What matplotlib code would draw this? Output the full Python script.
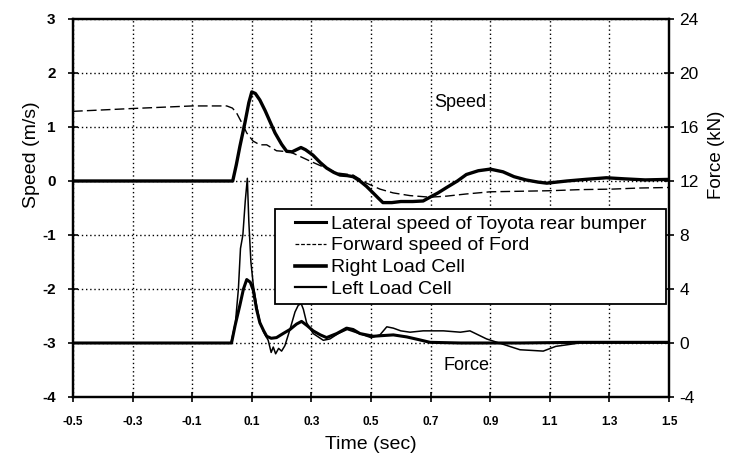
import matplotlib
matplotlib.use("Agg")
import matplotlib.pyplot as plt
from matplotlib.lines import Line2D
from matplotlib.legend_handler import HandlerLine2D

plt.rcParams['font.family'] = ['Liberation Sans', 'DejaVu Sans']

# ---- data ----
lat_t = [-0.5, 0.036, 0.048, 0.06, 0.077, 0.09, 0.10, 0.112, 0.127, 0.145, 0.161, 0.178, 0.2,
         0.217, 0.235, 0.25, 0.265, 0.28, 0.305, 0.33, 0.351, 0.375, 0.396, 0.42, 0.44, 0.463,
         0.485, 0.507, 0.525, 0.54, 0.57, 0.6, 0.64, 0.675, 0.698, 0.725, 0.754, 0.79, 0.82,
         0.86, 0.9, 0.943, 0.98, 1.02, 1.06, 1.09, 1.157, 1.22, 1.29, 1.35, 1.42, 1.5]
lat_v = [0, 0, 0.3, 0.64, 1.08, 1.45, 1.65, 1.62, 1.5, 1.3, 1.1, 0.89, 0.68,
         0.55, 0.54, 0.58, 0.62, 0.58, 0.48, 0.34, 0.24, 0.16, 0.11, 0.1, 0.08, 0.0,
         -0.1, -0.22, -0.32, -0.4, -0.4, -0.38, -0.38, -0.37, -0.3, -0.22, -0.12, 0.0, 0.12,
         0.19, 0.22, 0.17, 0.08, 0.02, -0.02, -0.04, 0.0, 0.03, 0.06, 0.04, 0.02, 0.03]

fwd_t = [-0.5, -0.31, -0.1, 0.016, 0.035, 0.049, 0.07, 0.083, 0.104, 0.127, 0.15, 0.183, 0.228,
         0.26, 0.295, 0.34, 0.385, 0.44, 0.485, 0.53, 0.574, 0.63, 0.698, 0.754, 0.82, 0.9,
         1.0, 1.1, 1.2, 1.31, 1.4, 1.5]
fwd_v = [1.29, 1.34, 1.39, 1.39, 1.35, 1.26, 1.04, 0.89, 0.74, 0.67, 0.67, 0.56, 0.54,
         0.46, 0.37, 0.26, 0.15, 0.11, -0.04, -0.15, -0.22, -0.27, -0.3, -0.28, -0.24, -0.2,
         -0.19, -0.18, -0.16, -0.15, -0.13, -0.12]

right_t = [-0.5, 0.032, 0.044, 0.06, 0.072, 0.083, 0.095, 0.105, 0.116, 0.127, 0.14, 0.15, 0.165,
           0.183, 0.205, 0.228, 0.25, 0.267, 0.285, 0.306, 0.33, 0.351, 0.385, 0.418, 0.44,
           0.463, 0.508, 0.54, 0.575, 0.62, 0.66, 0.698, 0.8, 1.0, 1.2, 1.5]
right_f = [0, 0, 1.3, 2.8, 4.0, 4.7, 4.5, 3.9, 2.5, 1.5, 0.9, 0.5, 0.35,
           0.4, 0.7, 1.0, 1.4, 1.6, 1.3, 0.9, 0.6, 0.4, 0.7, 1.1, 1.0,
           0.7, 0.5, 0.55, 0.6, 0.45, 0.25, 0.05, 0.0, 0.0, 0.05, 0.05]

left_t = [-0.5, 0.03, 0.045, 0.055, 0.062, 0.07, 0.078, 0.085, 0.09, 0.097, 0.105, 0.116, 0.127,
          0.14, 0.155, 0.165, 0.172, 0.18, 0.19, 0.2, 0.211, 0.228, 0.245, 0.256, 0.266, 0.273,
          0.284, 0.306, 0.34, 0.362, 0.39, 0.42, 0.46, 0.5, 0.53, 0.553, 0.575, 0.6, 0.631,
          0.675, 0.743, 0.8, 0.832, 0.888, 0.93, 1.0, 1.04, 1.078, 1.12, 1.2, 1.5]
left_f = [0, 0, 1.5, 4.0, 7.0, 8.0, 10.5, 12.2, 9.0, 6.0, 4.3, 2.8, 1.6,
          0.8, 0.2, -0.7, -0.3, -0.8, -0.4, -0.6, -0.2, 1.0, 2.3, 2.8, 2.9, 2.5,
          1.5, 0.7, 0.2, 0.3, 0.7, 1.0, 0.7, 0.4, 0.6, 1.2, 1.1, 0.9, 0.8,
          0.9, 0.9, 0.8, 0.9, 0.3, 0.0, -0.5, -0.55, -0.6, -0.25, 0.0, 0.0]

x_ticks = [-0.5, -0.3, -0.1, 0.1, 0.3, 0.5, 0.7, 0.9, 1.1, 1.3, 1.5]
speed_ticks = [-4, -3, -2, -1, 0, 1, 2, 3]
force_ticks = [-4, 0, 4, 8, 12, 16, 20, 24]

labels = ["Lateral speed of Toyota rear bumper", "Forward speed of Ford",
          "Right Load Cell", "Left Load Cell"]


class OffsetLineHandler(HandlerLine2D):
    """Draw the legend line only in the right part of the handle box."""
    def __init__(self, offset_px, **kw):
        super().__init__(**kw)
        self.offset_px = offset_px

    def get_xdata(self, legend, xdescent, ydescent, width, height, fontsize):
        x0 = -xdescent + self.offset_px
        x1 = -xdescent + width
        return [x0, x1], [0.5 * (x0 + x1)]


# ---- figure ----
fig = plt.figure(figsize=(7.32, 4.53), dpi=100)
ax = fig.add_axes([73/732, 1 - 397/453, (669-73)/732, (397-19)/453])
ax2 = ax.twinx()

ax.set_xlim(-0.5, 1.5)
ax.set_ylim(-4, 3)
ax2.set_ylim(-4, 24)

ax.set_xticks(x_ticks)
ax.set_xticklabels([f"{v:.1f}" for v in x_ticks], fontsize=8.5, fontweight='bold')
ax.set_yticks(speed_ticks)
ax.set_yticklabels([str(v) for v in speed_ticks], fontsize=11, fontweight='bold')
ax2.set_yticks(force_ticks)
ax2.set_yticklabels([str(v) for v in force_ticks], fontsize=12.5)

ax.grid(True, color='black', linestyle=(0, (1, 2)), linewidth=1.0)
for a in (ax, ax2):
    for s in a.spines.values():
        s.set_linewidth(1.6)
ax.tick_params(axis='x', direction='inout', length=7, width=1.2, pad=10)
ax.tick_params(axis='y', direction='inout', length=7, width=1.2, pad=9)
ax2.tick_params(axis='y', direction='inout', length=7, width=1.2, pad=4)

l1, = ax.plot(lat_t, lat_v, color='black', linewidth=2.4, solid_joinstyle='round')
l2, = ax.plot(fwd_t, fwd_v, color='black', linewidth=1.0, linestyle=(0, (7, 3)))
l3, = ax2.plot(right_t, right_f, color='black', linewidth=2.2, solid_joinstyle='round')
l4, = ax2.plot(left_t, left_f, color='black', linewidth=1.1)

ax.text(0.80, 1.45, "Speed", fontsize=13, ha='center', va='center')
ax.text(0.82, -3.42, "Force", fontsize=13, ha='center', va='center')

ax.set_xlabel("Time (sec)", fontsize=14)
ax.set_ylabel("Speed (m/s)", fontsize=14)
ax2.set_ylabel("Force (kN)", fontsize=13.5)
ax.xaxis.set_label_coords(0.5, -0.104)
ax.yaxis.set_label_coords(-0.056, 0.64)
ax2.yaxis.set_label_coords(1.066, 0.64)

handles = [Line2D([], [], color='black', linewidth=2.2),
           Line2D([], [], color='black', linewidth=0.9, linestyle=(0, (3, 1.5))),
           Line2D([], [], color='black', linewidth=2.6),
           Line2D([], [], color='black', linewidth=1.6)]
hmap = {h: OffsetLineHandler(10) for h in handles}
leg = ax2.legend(handles, labels, loc='upper left', bbox_to_anchor=(0.339, 0.497, 0.656, 0.0),
                 mode='expand', handler_map=hmap,
                 fontsize=14, frameon=True, fancybox=False, edgecolor='black',
                 framealpha=1, handlelength=2.32, handletextpad=0.25,
                 labelspacing=0.22, borderpad=0.3, borderaxespad=0)
leg.get_frame().set_linewidth(1.3)

fig.savefig("out.png", dpi=100)
